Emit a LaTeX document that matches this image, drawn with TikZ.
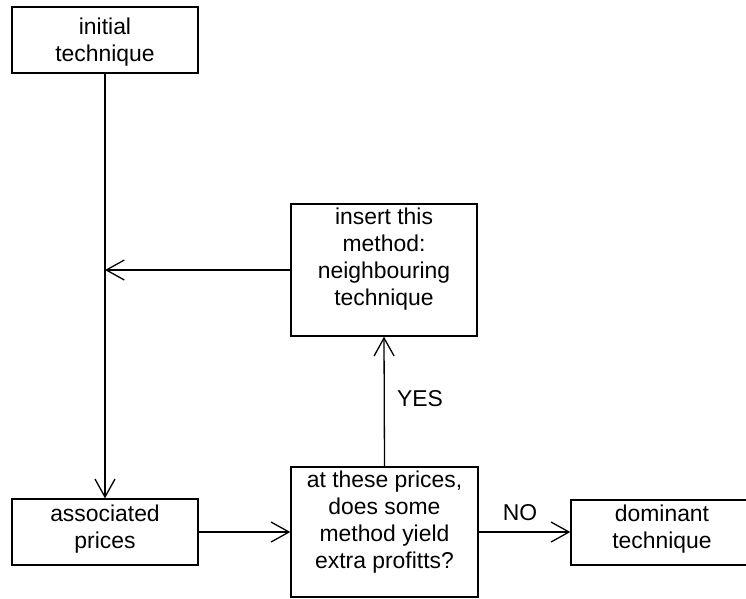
\documentclass[tikz,border=0pt]{standalone}
\usepackage{fontspec}
\setmainfont{Liberation Sans}
\usetikzlibrary{arrows.meta}
\begin{document}
\begin{tikzpicture}[x=1pt,y=-1pt,
  box/.style={draw=black, line width=1.3pt, rectangle, inner sep=0pt},
  lbl/.style={inner sep=0pt, align=center, font=\fontsize{22.9}{27}\selectfont},
  arr/.style={draw=black, line width=1.3pt, -{Straight Barb[length=18pt,width=20pt,line width=1.3pt]}}]
\useasboundingbox (0,0) rectangle (746,598);
\clip (0,0) rectangle (746,598);
% boxes
\node[box, minimum width=186pt, minimum height=66pt] (init) at (105,40) {};
\node[lbl] (init-t) at ([yshift=-2.5pt]init.center) {initial\\technique};
\node[box, minimum width=186pt, minimum height=132pt] (ins) at (384,270) {};
\node[lbl] (ins-t) at ([yshift=11pt]ins.center) {insert this\\method:\\neighbouring\\technique};
\node[box, minimum width=186pt, minimum height=66pt] (assoc) at (105,532) {};
\node[lbl] (assoc-t) at ([yshift=3pt]assoc.center) {associated\\prices};
\node[box, minimum width=187pt, minimum height=130pt] (dec) at (384.5,532) {};
\node[lbl] (dec-t) at ([yshift=10pt]dec.center) {at these prices,\\does some\\method yield\\extra profitts?};
\node[box, minimum width=190pt, minimum height=65pt] (dom) at (666,532.5) {};
\node[lbl] (dom-t) at (662,529.5) {dominant\\technique};
% connectors
\coordinate (j) at (105,270);
\draw[arr] (init.south) -- (assoc.north);
\draw[arr] (ins.west) -- (j);
\draw[arr] (assoc.east) -- (dec.west);
\draw[arr] (dec.north) -- (ins.south);
\draw[arr] (dec.east) -- (dom.west |- dec.east);
% labels
\node[lbl] (yes) at (420,399) {YES};
\node[lbl] (no) at (520,513) {NO};
\end{tikzpicture}
\end{document}
